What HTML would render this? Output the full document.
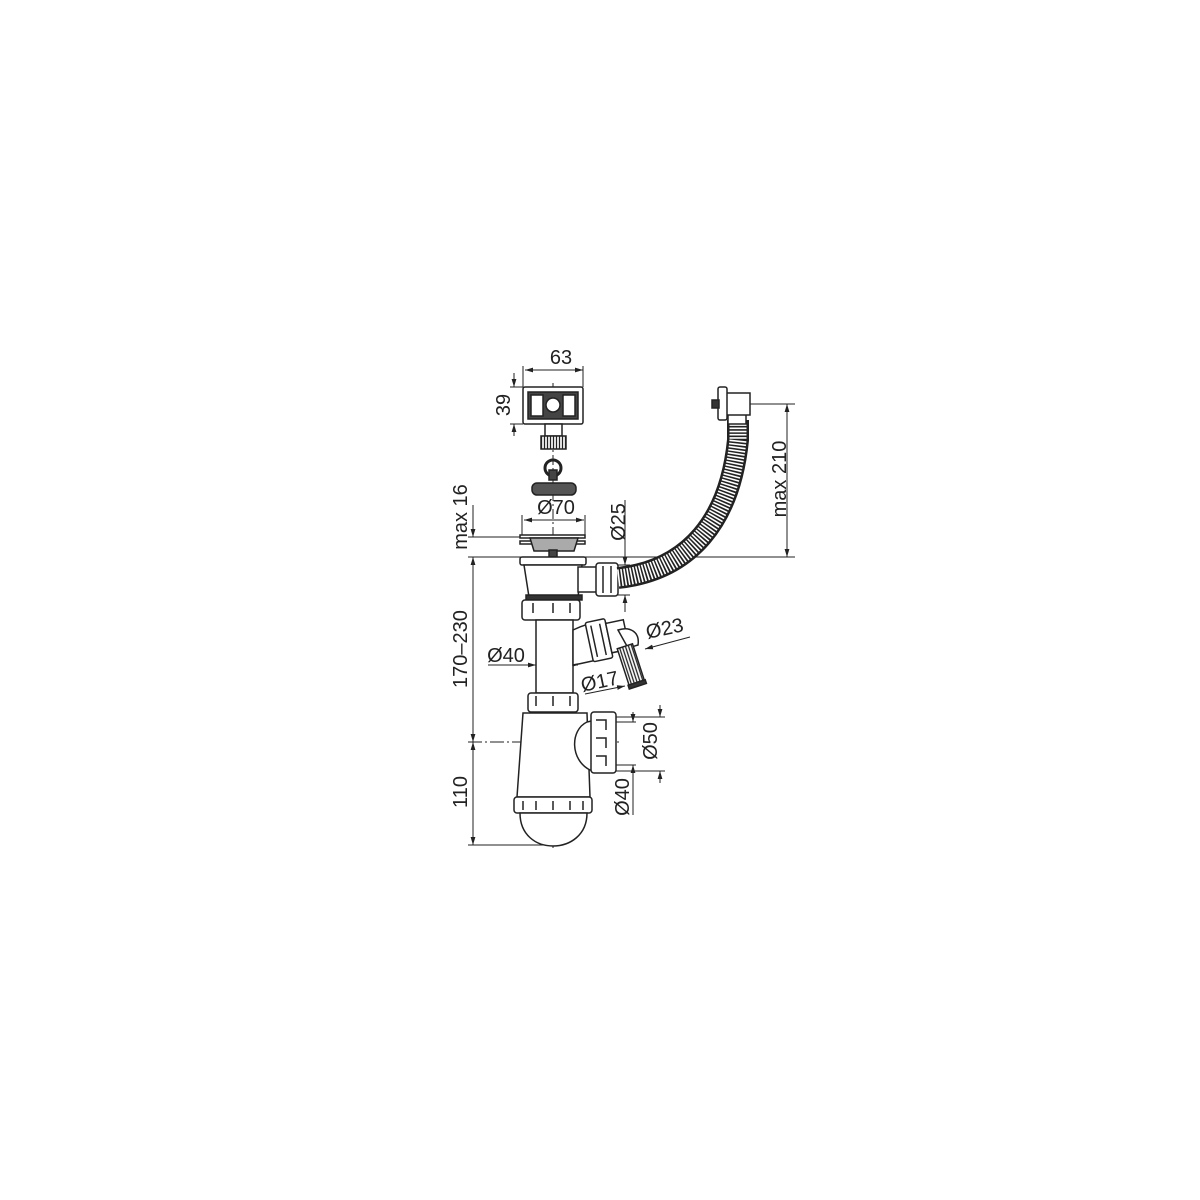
<!DOCTYPE html>
<html><head><style>
html,body{margin:0;padding:0;background:#fff;}
svg{display:block}
text{font-family:"Liberation Sans","DejaVu Sans",sans-serif;font-size:20px;fill:#222}
</style></head><body>
<svg width="1200" height="1200" viewBox="0 0 1200 1200" xmlns="http://www.w3.org/2000/svg">
<defs>
<marker id="a" viewBox="0 0 10 10" refX="10" refY="5" markerWidth="8" markerHeight="8" orient="auto-start-reverse"><path d="M0,2 L10,5 L0,8 z" fill="#222"/></marker>
<pattern id="rib" width="3" height="4" patternUnits="userSpaceOnUse"><rect width="3" height="4" fill="#fff"/><line x1="1.5" y1="0" x2="1.5" y2="4" stroke="#222" stroke-width="1.3"/></pattern>
</defs>
<g stroke="#222" fill="none" stroke-width="1">
<line x1="525" y1="370" x2="583" y2="370" marker-start="url(#a)" marker-end="url(#a)"/>
<line x1="523" y1="366" x2="523" y2="387"/><line x1="583" y1="366" x2="583" y2="387"/>
<line x1="514" y1="373" x2="514" y2="387" marker-end="url(#a)"/><line x1="514" y1="436" x2="514" y2="424" marker-end="url(#a)"/>
<line x1="510" y1="387" x2="523" y2="387"/><line x1="510" y1="424" x2="523" y2="424"/>
<line x1="524" y1="520" x2="584" y2="520" marker-start="url(#a)" marker-end="url(#a)"/>
<line x1="522" y1="515" x2="522" y2="535"/><line x1="585" y1="515" x2="585" y2="535"/>
<line x1="473" y1="505" x2="473" y2="537" marker-end="url(#a)"/>
<line x1="473" y1="557" x2="473" y2="742" marker-start="url(#a)" marker-end="url(#a)"/>
<line x1="473" y1="742" x2="473" y2="845" marker-start="url(#a)" marker-end="url(#a)"/>
<line x1="468" y1="537" x2="520" y2="537"/><line x1="468" y1="557" x2="795" y2="557"/>
<line x1="468" y1="742" x2="620" y2="742" stroke-dasharray="14,3,2,3"/>
<line x1="468" y1="845" x2="553" y2="845"/>
<line x1="750" y1="404" x2="795" y2="404"/>
<line x1="787" y1="404" x2="787" y2="557" marker-start="url(#a)" marker-end="url(#a)"/>
<line x1="625" y1="500" x2="625" y2="565" marker-end="url(#a)"/><line x1="625" y1="612" x2="625" y2="595" marker-end="url(#a)"/>
<line x1="610" y1="565" x2="630" y2="565"/><line x1="610" y1="595" x2="630" y2="595"/>
<line x1="488" y1="665" x2="536" y2="665" marker-end="url(#a)"/><line x1="536" y1="665" x2="578" y2="665" marker-end="url(#a)"/>
<line x1="585" y1="694" x2="625" y2="686" marker-end="url(#a)"/>
<line x1="690" y1="637" x2="645" y2="649" marker-end="url(#a)"/>
<line x1="616" y1="717" x2="665" y2="717"/><line x1="616" y1="771" x2="665" y2="771"/>
<line x1="660" y1="705" x2="660" y2="717" marker-end="url(#a)"/><line x1="660" y1="783" x2="660" y2="771" marker-end="url(#a)"/>
<line x1="616" y1="722" x2="636" y2="722"/><line x1="616" y1="765" x2="636" y2="765"/>
<line x1="633" y1="712" x2="633" y2="722" marker-end="url(#a)"/><line x1="633" y1="815" x2="633" y2="765" marker-end="url(#a)"/>
<line x1="553" y1="383" x2="553" y2="850" stroke-dasharray="10,3,2,3"/>
</g>
<g stroke="#222" fill="#fff" stroke-width="1.5">
<rect x="523" y="387" width="60" height="37" rx="2"/>
<rect x="528" y="392" width="50" height="27" fill="#444"/>
<rect x="531" y="395" width="12" height="21" fill="#fff"/><rect x="563" y="395" width="12" height="21" fill="#fff"/>
<circle cx="553" cy="405" r="7" fill="#fff"/>
<rect x="545" y="424" width="17" height="12"/>
<rect x="541" y="436" width="25" height="13" fill="url(#rib)"/>
<circle cx="553" cy="468" r="8" fill="none" stroke-width="3"/>
<rect x="549" y="470" width="8" height="10" fill="#444"/>
<rect x="532" y="483" width="44" height="12" rx="5" fill="#555"/>
<rect x="520" y="535" width="65" height="3"/><rect x="520" y="541" width="65" height="3"/>
<path d="M530,538 L578,538 L574,551 L534,551 z" fill="#aaa"/>
<rect x="549" y="550" width="8" height="7" fill="#444"/>
<rect x="520" y="557" width="66" height="8" rx="2"/>
<path d="M524,565 L582,565 L578,597 L529,597 z"/>
<rect x="526" y="595" width="56" height="5" fill="#333"/>
<rect x="578" y="567" width="20" height="25"/>
<rect x="596" y="563" width="22" height="33" rx="3"/>
<line x1="603" y1="566" x2="603" y2="593"/><line x1="611" y1="566" x2="611" y2="593"/>
<path d="M618,578 C690,570 730,520 738,440 L738,420" fill="none" stroke="#222" stroke-width="22"/>
<path d="M618,578 C690,570 730,520 738,440 L738,420" fill="none" stroke="#fff" stroke-width="17" stroke-dasharray="1.6,1.6"/>
<rect x="728" y="414" width="18" height="10"/>
<rect x="726" y="393" width="24" height="22"/>
<rect x="718" y="387" width="9" height="33" rx="2"/>
<rect x="712" y="400" width="7" height="8" fill="#333"/>
<rect x="522" y="600" width="58" height="20" rx="3"/>
<path d="M533,603v10M553,603v10M570,603v10"/>
<rect x="536" y="620" width="37" height="73"/>
<path d="M573,630 C585,624 596,622 606,623 L608,658 C595,660 585,663 573,665 z"/>
<g transform="rotate(-12 600 640)">
<rect x="589" y="620" width="20" height="40" rx="2"/>
<path d="M594,624v32M603,624v32"/>
<rect x="609" y="625" width="18" height="30"/>
</g>
<path d="M618,630 C630,626 640,632 638,645 L628,648 z"/>
<g transform="rotate(-18 632 665)">
<rect x="623" y="645" width="16" height="40" fill="url(#rib)"/>
<rect x="622" y="683" width="18" height="4" fill="#333"/>
</g>
<rect x="528" y="693" width="50" height="19" rx="3"/>
<path d="M536,696v10M553,696v10M570,696v10"/>
<path d="M523,713 L587,713 L590,797 L517,797 z"/>
<path d="M587,722 C570,730 570,760 590,770 L596,770 L596,720 z"/>
<rect x="591" y="712" width="25" height="61" rx="3"/>
<path d="M596,720h10v10M596,738h10v10M596,756h10v10" fill="none"/>
<rect x="514" y="797" width="78" height="16" rx="3"/>
<path d="M523,801v9M536,801v9M553,801v9M570,801v9M583,801v9"/>
<path d="M520,813 L587,813 C587,835 570,846 553,846 C536,846 520,835 520,813 z"/>
</g>
<text x="561" y="364" text-anchor="middle">63</text>
<text x="556" y="514" text-anchor="middle">Ø70</text>
<text transform="translate(510,405) rotate(-90)" text-anchor="middle">39</text>
<text transform="translate(467,517) rotate(-90)" text-anchor="middle">max 16</text>
<text transform="translate(467,649) rotate(-90)" text-anchor="middle">170–230</text>
<text transform="translate(467,792) rotate(-90)" text-anchor="middle">110</text>
<text transform="translate(625,522) rotate(-90)" text-anchor="middle">Ø25</text>
<text transform="translate(786,479) rotate(-90)" text-anchor="middle">max 210</text>
<text transform="translate(657,741) rotate(-90)" text-anchor="middle">Ø50</text>
<text transform="translate(629,797) rotate(-90)" text-anchor="middle">Ø40</text>
<text x="506" y="662" text-anchor="middle">Ø40</text>
<text transform="translate(601,688) rotate(-12)" text-anchor="middle">Ø17</text>
<text transform="translate(666,635) rotate(-12)" text-anchor="middle">Ø23</text>
</svg>
</body></html>
